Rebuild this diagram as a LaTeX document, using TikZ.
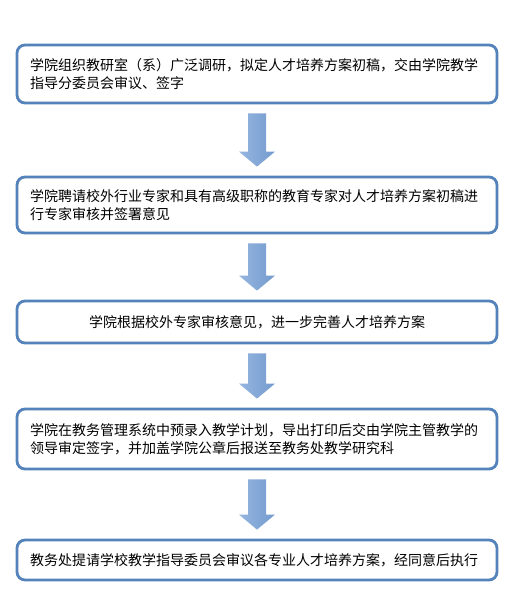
\documentclass[tikz,border=0pt]{standalone}
\usepackage{fontspec}
\newfontfamily\cjk{Noto Sans CJK SC}
\usepackage{tikz}
\usetikzlibrary{calc,positioning}
\usepackage{xcolor}

\definecolor{boxblue}{RGB}{84,130,186}
\definecolor{arrowlight}{RGB}{150,182,224}
\definecolor{arrowdark}{RGB}{62,112,178}

\newcommand{\flowarrow}[2]{%
  \path[flow] let \p1=($(#1.south)+(0,-9pt)$), \p2=($(#2.north)+(0,9pt)$) in
    (\x1-9pt,\y1) -- (\x1+9pt,\y1) -- (\x1+9pt,\y2+15pt) -- (\x1+18pt,\y2+15pt)
    -- (\x1,\y2) -- (\x1-18pt,\y2+15pt) -- (\x1-9pt,\y2+15pt) -- cycle;}

\begin{document}
\begin{tikzpicture}[x=1pt, y=1pt, every node/.style={font=\cjk\fontsize{14pt}{18pt}\selectfont}]
\tikzset{stage/.style={draw=boxblue, line width=2.8pt, rounded corners=8pt, fill=white, text width=454pt, inner xsep=13pt, inner ysep=0pt, align=left}}
\tikzset{flow/.style={left color=arrowlight, middle color=arrowdark, right color=arrowlight!60!arrowdark}}
\useasboundingbox (0,0) rectangle (510,-591);
\node[stage, minimum height=58pt] (s1) at (257,-74) {学院组织教研室（系）广泛调研，拟定人才培养方案初稿，交由学院教学\\指导分委员会审议、签字};
\node[stage, minimum height=56pt] (s2) at (257,-205) {学院聘请校外行业专家和具有高级职称的教育专家对人才培养方案初稿进\\行专家审核并签署意见};
\node[stage, minimum height=42pt, align=center] (s3) at (257,-322) {学院根据校外专家审核意见，进一步完善人才培养方案};
\node[stage, minimum height=60pt] (s4) at (257,-439) {学院在教务管理系统中预录入教学计划，导出打印后交由学院主管教学的\\领导审定签字，并加盖学院公章后报送至教务处教学研究科};
\node[stage, minimum height=40pt] (s5) at (257,-560) {教务处提请学校教学指导委员会审议各专业人才培养方案，经同意后执行};
\flowarrow{s1}{s2}
\flowarrow{s2}{s3}
\flowarrow{s3}{s4}
\flowarrow{s4}{s5}
\end{tikzpicture}
\end{document}
